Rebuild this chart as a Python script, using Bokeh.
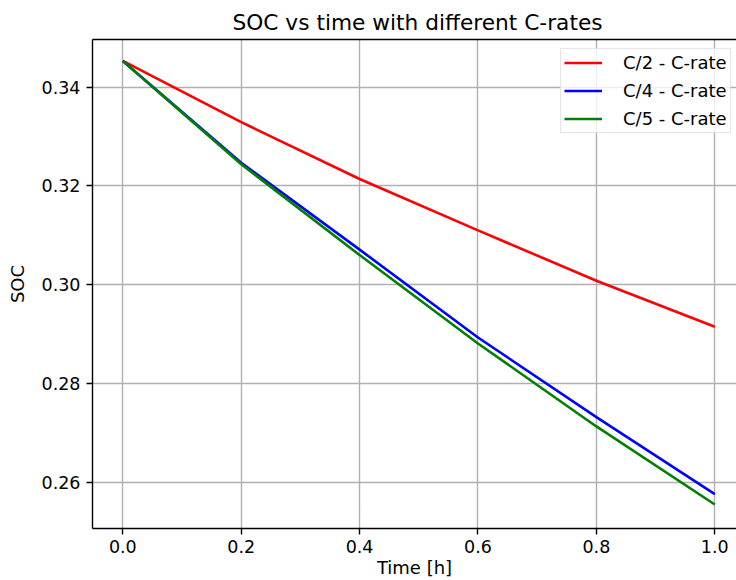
from bokeh.plotting import figure
from bokeh.models import Range1d, FixedTicker, PrintfTickFormatter, LinearAxis, Legend, LegendItem
from bokeh.embed import file_html
from bokeh.resources import INLINE

# Data
time_h = [0.0, 0.2, 0.4, 0.6, 0.8, 1.0]
soc_c2 = [0.3453, 0.3329, 0.3214, 0.3110, 0.3008, 0.2915]
soc_c4 = [0.3453, 0.3247, 0.3071, 0.2893, 0.2732, 0.2576]
soc_c5 = [0.3453, 0.3244, 0.3060, 0.2881, 0.2713, 0.2555]
labels = ["C/2 - C-rate", "C/4 - C-rate", "C/5 - C-rate"]
colors = ["#ff0000", "#0000ff", "#008000"]
x_ticks = [0.0, 0.2, 0.4, 0.6, 0.8, 1.0]
y_ticks = [0.26, 0.28, 0.30, 0.32, 0.34]

FONT = "DejaVu Sans"

p = figure(width=736, height=580, output_backend="svg", toolbar_location=None,
           x_range=Range1d(-0.0512, 1.0367), y_range=Range1d(0.25064, 0.34964),
           min_border_left=92, min_border_right=0, min_border_top=39, min_border_bottom=10)

p.title.text = "SOC vs time with different C-rates"
p.title.text_font = FONT
p.title.text_font_size = "21.7px"
p.title.text_font_style = "normal"
p.title.text_color = "black"
p.title.align = "left"
p.title.offset = 140

p.outline_line_color = None
p.background_fill_color = "white"
p.border_fill_color = "white"

for ax in (p.xaxis[0], p.yaxis[0]):
    ax.axis_line_color = "black"
    ax.axis_line_width = 1.4
    ax.major_tick_line_color = "black"
    ax.major_tick_line_width = 1.4
    ax.major_tick_out = 6
    ax.major_tick_in = 0
    ax.minor_tick_line_color = None
    ax.major_label_text_font = FONT
    ax.major_label_text_font_size = "17.5px"
    ax.major_label_text_color = "black"
    ax.axis_label_text_font = FONT
    ax.axis_label_text_font_size = "18px"
    ax.axis_label_text_font_style = "normal"
    ax.axis_label_text_color = "black"

p.xaxis[0].ticker = FixedTicker(ticks=x_ticks)
p.xaxis[0].formatter = PrintfTickFormatter(format="%.1f")
p.xaxis[0].axis_label = "Time [h]"
p.xaxis[0].major_label_standoff = 5
p.xaxis[0].axis_label_standoff = 1

p.yaxis[0].ticker = FixedTicker(ticks=y_ticks)
p.yaxis[0].formatter = PrintfTickFormatter(format="%.2f")
p.yaxis[0].axis_label = "SOC"
p.yaxis[0].major_label_standoff = 6
p.yaxis[0].axis_label_standoff = 11

# top spine
top = LinearAxis(ticker=FixedTicker(ticks=[]), axis_line_color="black", axis_line_width=1.4,
                 major_tick_line_color=None, minor_tick_line_color=None,
                 major_label_text_font_size="0px")
p.add_layout(top, "above")

p.xgrid.ticker = FixedTicker(ticks=x_ticks)
p.ygrid.ticker = FixedTicker(ticks=y_ticks)
p.grid.grid_line_color = "#b0b0b0"
p.grid.grid_line_width = 1.4

r1 = p.line(time_h, soc_c2, line_color=colors[0], line_width=2.6)
r2 = p.line(time_h, soc_c4, line_color=colors[1], line_width=2.6)
r3 = p.line(time_h, soc_c5, line_color=colors[2], line_width=2.6)

legend = Legend(items=[LegendItem(label=labels[0], renderers=[r1]),
                       LegendItem(label=labels[1], renderers=[r2]),
                       LegendItem(label=labels[2], renderers=[r3])],
                location=(468, 395), margin=0,
                glyph_width=38, glyph_height=21, label_height=21, spacing=7,
                padding=3, label_standoff=21,
                label_text_font=FONT, label_text_font_size="18px", label_text_color="black",
                border_line_color="#cccccc", border_line_width=1.4,
                background_fill_color="white", background_fill_alpha=0.8)
p.add_layout(legend, "center")

open("out.html", "w").write(file_html(p, INLINE))
